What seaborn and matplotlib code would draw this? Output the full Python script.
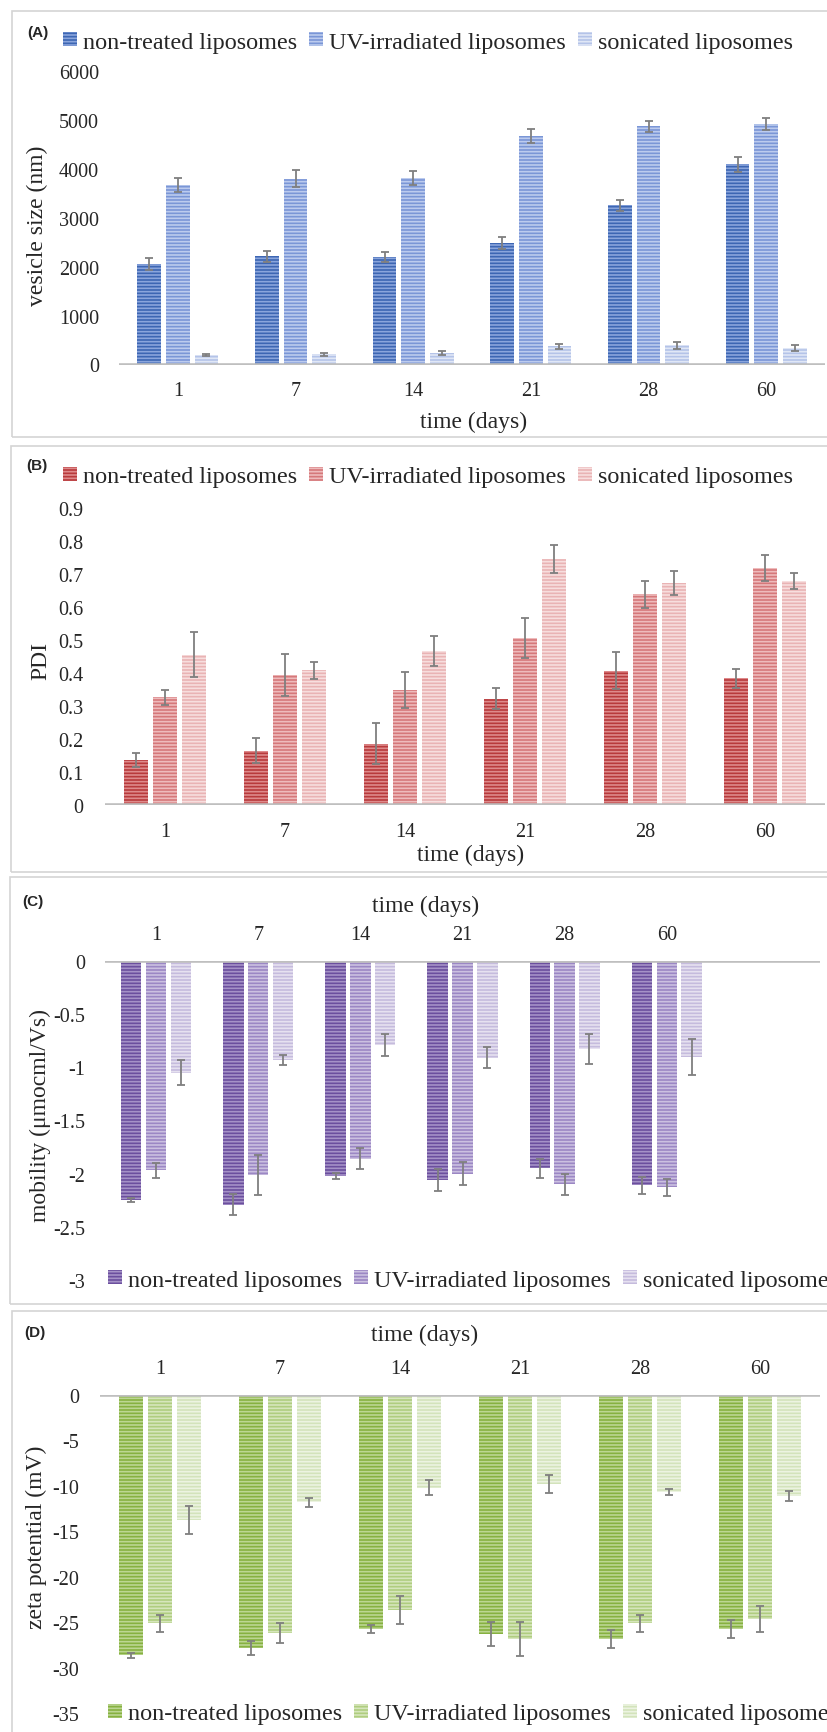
import matplotlib
matplotlib.use('Agg')
import matplotlib.pyplot as plt
import seaborn as sns
import pandas as pd
from matplotlib.patches import Patch, Rectangle

# ---------------- data ----------------
days = ['1', '7', '14', '21', '28', '60']
groups = ['non-treated liposomes', 'UV-irradiated liposomes', 'sonicated liposomes']

# (A) vesicle size (nm)
size_nt = [2050, 2210, 2190, 2490, 3260, 4090]
size_nt_err = [126, 105, 102, 119, 112, 150]
size_uv = [3670, 3800, 3810, 4670, 4870, 4910]
size_uv_err = [136, 170, 150, 136, 109, 122]
size_son = [190, 210, 230, 370, 390, 340]
size_son_err = [20, 31, 41, 54, 78, 61]

# (B) PDI
pdi_nt = [0.136, 0.165, 0.186, 0.322, 0.407, 0.384]
pdi_nt_err = [0.021, 0.038, 0.062, 0.032, 0.056, 0.029]
pdi_uv = [0.326, 0.395, 0.348, 0.507, 0.638, 0.718]
pdi_uv_err = [0.024, 0.064, 0.054, 0.061, 0.042, 0.039]
pdi_son = [0.455, 0.408, 0.466, 0.745, 0.672, 0.679]
pdi_son_err = [0.068, 0.026, 0.046, 0.043, 0.036, 0.024]

# (C) mobility (umocml/Vs)
mob_nt = [-2.25, -2.29, -2.02, -2.06, -1.95, -2.11]
mob_nt_err = [0.02, 0.10, 0.03, 0.10, 0.09, 0.08]
mob_uv = [-1.97, -2.01, -1.86, -2.00, -2.10, -2.13]
mob_uv_err = [0.07, 0.19, 0.10, 0.11, 0.10, 0.08]
mob_son = [-1.05, -0.93, -0.79, -0.91, -0.83, -0.90]
mob_son_err = [0.12, 0.05, 0.10, 0.10, 0.14, 0.17]

# (D) zeta potential (mV)
zeta_nt = [-28.6, -27.8, -25.7, -26.3, -26.8, -25.7]
zeta_nt_err = [0.3, 0.77, 0.46, 1.32, 1.0, 1.0]
zeta_uv = [-25.1, -26.2, -23.6, -26.8, -25.1, -24.6]
zeta_uv_err = [0.92, 1.1, 1.56, 1.83, 0.92, 1.41]
zeta_son = [-13.7, -11.8, -10.2, -9.8, -10.7, -11.1]
zeta_son_err = [1.52, 0.51, 0.81, 1.0, 0.33, 0.51]

size_ticks = [0, 1000, 2000, 3000, 4000, 5000, 6000]
pdi_ticks = [0, 0.1, 0.2, 0.3, 0.4, 0.5, 0.6, 0.7, 0.8, 0.9]
mob_ticks = [0, -0.5, -1, -1.5, -2, -2.5, -3]
zeta_ticks = [0, -5, -10, -15, -20, -25, -30, -35]

# ---------------- style ----------------
sns.set_style('white')
plt.rcParams['font.family'] = ['Liberation Serif', 'DejaVu Serif']
plt.rcParams['axes.unicode_minus'] = False
plt.rcParams['hatch.linewidth'] = 1.2

W, H = 827, 1733
fig = plt.figure(figsize=(W / 100, H / 100), dpi=100)

HATCH = '-----'
TICK_FS = 14.5
LAB_FS = 17
LEG_FS = 17.4


def fmt(v):
    return '%g' % v


def rect_px(l, t, r, b):
    return [l / W, 1 - b / H, (r - l) / W, (b - t) / H]


def panel(rect, vals, errs, colors, stripes, ylim, yticks, ylabel, ypad,
          top, xlim, leg_xy, ylab_xy, xlab_xy, letter, letter_xy):
    ax = fig.add_axes(rect)
    df = pd.DataFrame({
        'day': days * 3,
        'group': sum([[g] * len(days) for g in groups], []),
        'value': list(vals[0]) + list(vals[1]) + list(vals[2]),
    })
    sns.barplot(data=df, x='day', y='value', hue='group', order=days,
                hue_order=groups, palette=colors, saturation=1,
                width=0.73, gap=0.18, errorbar=None, legend=False, ax=ax)
    bar_conts = list(ax.containers)
    for i, cont in enumerate(bar_conts):
        xs = []
        for p in cont.patches:
            p.set_hatch(HATCH)
            p.set_edgecolor(stripes[i])
            p.set_linewidth(0)
            xs.append(p.get_x() + p.get_width() / 2)
        ax.errorbar(xs, vals[i], yerr=errs[i], fmt='none', ecolor='#7f7f7f',
                    elinewidth=1.3, capsize=3, capthick=1.3, zorder=4)
    ax.axhline(0, color='#bfbfbf', lw=2.6, zorder=3)
    for s in ax.spines.values():
        s.set_visible(False)
    ax.set_ylim(*ylim)
    ax.set_xlim(*xlim)
    ax.set_yticks(yticks)
    ax.set_yticklabels([fmt(t) for t in yticks])
    ax.tick_params(axis='both', length=0, labelsize=TICK_FS)
    ax.tick_params(axis='y', pad=ypad)
    ax.tick_params(axis='x', pad=12)
    ax.grid(False)
    if top:
        ax.xaxis.tick_top()
        ax.xaxis.set_label_position('top')
    ax.set_xlabel('time (days)', fontsize=LAB_FS)
    ax.xaxis.label.set_va('center')
    ax.xaxis.set_label_coords(*xlab_xy)
    ax.set_ylabel(ylabel, fontsize=LAB_FS)
    ax.yaxis.label.set_va('center')
    ax.yaxis.set_label_coords(*ylab_xy)
    handles = [Patch(facecolor=colors[i], edgecolor=stripes[i], hatch=HATCH,
                     linewidth=0) for i in range(3)]
    ax.legend(handles, groups, loc='center left',
              bbox_to_anchor=(leg_xy[0] / W, 1 - leg_xy[1] / H),
              bbox_transform=fig.transFigure, ncol=3, frameon=False,
              borderpad=0, borderaxespad=0, handlelength=0.58,
              handleheight=0.5, handletextpad=0.25, columnspacing=0.5,
              fontsize=LEG_FS)
    fig.text(letter_xy[0] / W, 1 - letter_xy[1] / H, letter, ha='center',
             va='center', fontsize=11, fontweight='bold',
             family=['Liberation Sans', 'DejaVu Sans'])
    return ax


# panel boxes
for (l, t, r, b) in [(12, 12, 845, 438), (11, 447, 845, 873),
                     (10, 878, 845, 1305), (12, 1312, 845, 1760)]:
    fig.add_artist(Rectangle((l / W, 1 - b / H), (r - l) / W, (b - t) / H,
                             transform=fig.transFigure, fill=False,
                             edgecolor='#d4d4d4', lw=1.2))

# (A)
panel(rect_px(119, 72, 825, 365.5),
      [size_nt, size_uv, size_son], [size_nt_err, size_uv_err, size_son_err],
      ['#3d66b3', '#7a96d6', '#b4c3e8'], ['#8aa5dc', '#bccbee', '#e0e7f6'],
      (0, 6000), size_ticks, 'vesicle size (nm)', 14.4, False, (-0.5, 5.5),
      (63, 43), (-0.115, 0.475), (0.502, -0.1925), '(A)', (38, 33))

# (B)
panel(rect_px(105, 509, 825, 806),
      [pdi_nt, pdi_uv, pdi_son], [pdi_nt_err, pdi_uv_err, pdi_son_err],
      ['#b83a3c', '#d5787a', '#e9b3b4'], ['#de8a8b', '#eebbbc', '#f7dede'],
      (0, 0.9), pdi_ticks, 'PDI', 15.8, False, (-0.5, 5.5),
      (63, 478), (-0.089, 0.49), (0.508, -0.168), '(B)', (37, 466))

# (C)
panel(rect_px(105, 962, 820, 1281),
      [mob_nt, mob_uv, mob_son], [mob_nt_err, mob_uv_err, mob_son_err],
      ['#6b4f9e', '#9b87c4', '#c5bbdd'], ['#a592c7', '#cbc0e0', '#e6e1f0'],
      (-3, 0), mob_ticks, 'mobility (μmocml/Vs)', 14.4, True, (-0.5, 6.5),
      (108, 1281), (-0.091, 0.52), (0.448, 1.174), '(C)', (33, 902))

# (D)
panel(rect_px(100, 1396, 820, 1714.5),
      [zeta_nt, zeta_uv, zeta_son], [zeta_nt_err, zeta_uv_err, zeta_son_err],
      ['#86b140', '#afcd7f', '#d3e3bb'], ['#bcd692', '#d6e6bc', '#ecf3e1'],
      (-35, 0), zeta_ticks, 'zeta potential (mV)', 15, True, (-0.5, 5.5),
      (108, 1715), (-0.089, 0.557), (0.451, 1.19), '(D)', (35, 1333))

fig.savefig('out.png', dpi=100)
